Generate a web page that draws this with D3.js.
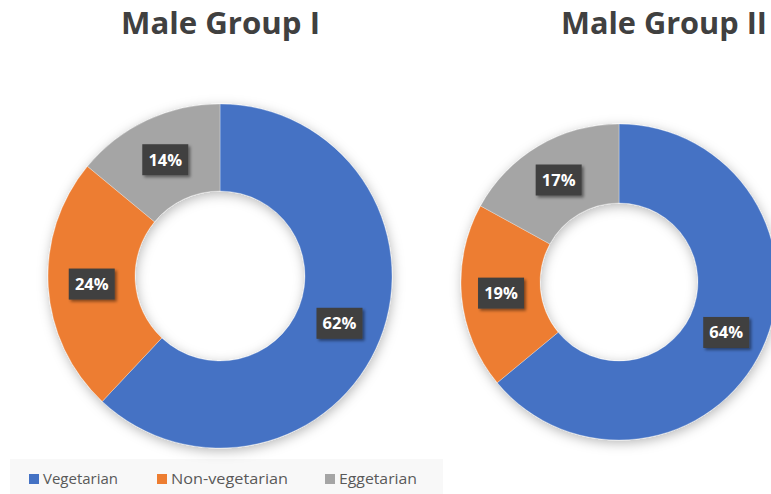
<!DOCTYPE html>
<html>
<head>
<meta charset="utf-8">
<script src="https://cdn.jsdelivr.net/npm/d3@7"></script>
<style>
  html, body { margin: 0; padding: 0; background: #ffffff; }
  svg { display: block; }
</style>
</head>
<body>
<svg id="chart" width="771" height="494"></svg>
<script>
const categories = ["Vegetarian", "Non-vegetarian", "Eggetarian"];
const group1Values = [62, 24, 14];
const group2Values = [64, 19, 17];
const titles = ["Male Group I", "Male Group II"];
const colors = ["#4472C4", "#ED7D31", "#A5A5A5"];

const svg = d3.select("#chart");
const defs = svg.append("defs");

const ds = defs.append("filter").attr("id", "donutShadow")
  .attr("x", "-20%").attr("y", "-20%").attr("width", "140%").attr("height", "140%");
ds.append("feDropShadow").attr("dx", 1).attr("dy", 3).attr("stdDeviation", 6)
  .attr("flood-color", "#000").attr("flood-opacity", 0.28);

const ls = defs.append("filter").attr("id", "labelShadow")
  .attr("x", "-30%").attr("y", "-30%").attr("width", "160%").attr("height", "160%");
ls.append("feDropShadow").attr("dx", 2).attr("dy", 2).attr("stdDeviation", 1.6)
  .attr("flood-color", "#000").attr("flood-opacity", 0.45);

// legend band
svg.append("rect").attr("x", 10).attr("y", 459).attr("width", 433).attr("height", 35)
  .attr("fill", "#f8f8f8");

const color = d3.scaleOrdinal().domain(categories).range(colors);

const charts = [
  { title: titles[0], values: group1Values, cx: 220, cy: 276, rOuter: 172, rInner: 85, titleX: 121, titleW: 199 },
  { title: titles[1], values: group2Values, cx: 619, cy: 282, rOuter: 158, rInner: 79, titleX: 561, titleW: 206 }
];

const pie = d3.pie().sort(null).value(d => d.value);

charts.forEach(c => {
  const data = categories.map((k, i) => ({ key: k, value: c.values[i] }));
  const arcs = pie(data);
  const arc = d3.arc().innerRadius(c.rInner).outerRadius(c.rOuter);
  const labelArc = d3.arc().innerRadius((c.rInner + c.rOuter) / 2).outerRadius((c.rInner + c.rOuter) / 2);

  const g = svg.append("g").attr("transform", `translate(${c.cx},${c.cy})`);
  const ring = g.append("g").attr("filter", "url(#donutShadow)");
  ring.selectAll("path").data(arcs).join("path")
    .attr("d", arc)
    .attr("fill", d => color(d.data.key))
    .attr("stroke", "#ffffff")
    .attr("stroke-opacity", 0.5)
    .attr("stroke-width", 0.6);

  const lab = g.selectAll("g.lab").data(arcs).join("g").attr("class", "lab")
    .attr("transform", d => `translate(${labelArc.centroid(d)})`);
  lab.append("rect")
    .attr("x", -23).attr("y", -15.5).attr("width", 46).attr("height", 31)
    .attr("fill", "#404040")
    .attr("filter", "url(#labelShadow)");
  lab.append("text")
    .attr("text-anchor", "middle")
    .attr("dy", "0.36em")
    .attr("font-family", "'Open Sans', sans-serif")
    .attr("font-weight", 700)
    .attr("font-size", 16.5)
    .attr("fill", "#ffffff")
    .text(d => d.data.value + "%");

  // title
  svg.append("text")
    .attr("x", c.titleX).attr("y", 34)
    .attr("font-family", "'Open Sans', sans-serif")
    .attr("font-weight", 700)
    .attr("font-size", 31)
    .attr("fill", "#404040")
    .attr("textLength", c.titleW)
    .attr("lengthAdjust", "spacingAndGlyphs")
    .text(c.title);
});

// legend
const legendX = [29, 157, 325];
const legendW = [75, 117, 78];
const legend = svg.append("g");
categories.forEach((k, i) => {
  legend.append("rect").attr("x", legendX[i]).attr("y", 474).attr("width", 10).attr("height", 10)
    .attr("fill", color(k));
  legend.append("text").attr("x", legendX[i] + 14).attr("y", 484)
    .attr("font-family", "'Open Sans', sans-serif")
    .attr("font-size", 15)
    .attr("fill", "#595959")
    .attr("textLength", legendW[i])
    .attr("lengthAdjust", "spacingAndGlyphs")
    .text(k);
});
</script>
</body>
</html>
